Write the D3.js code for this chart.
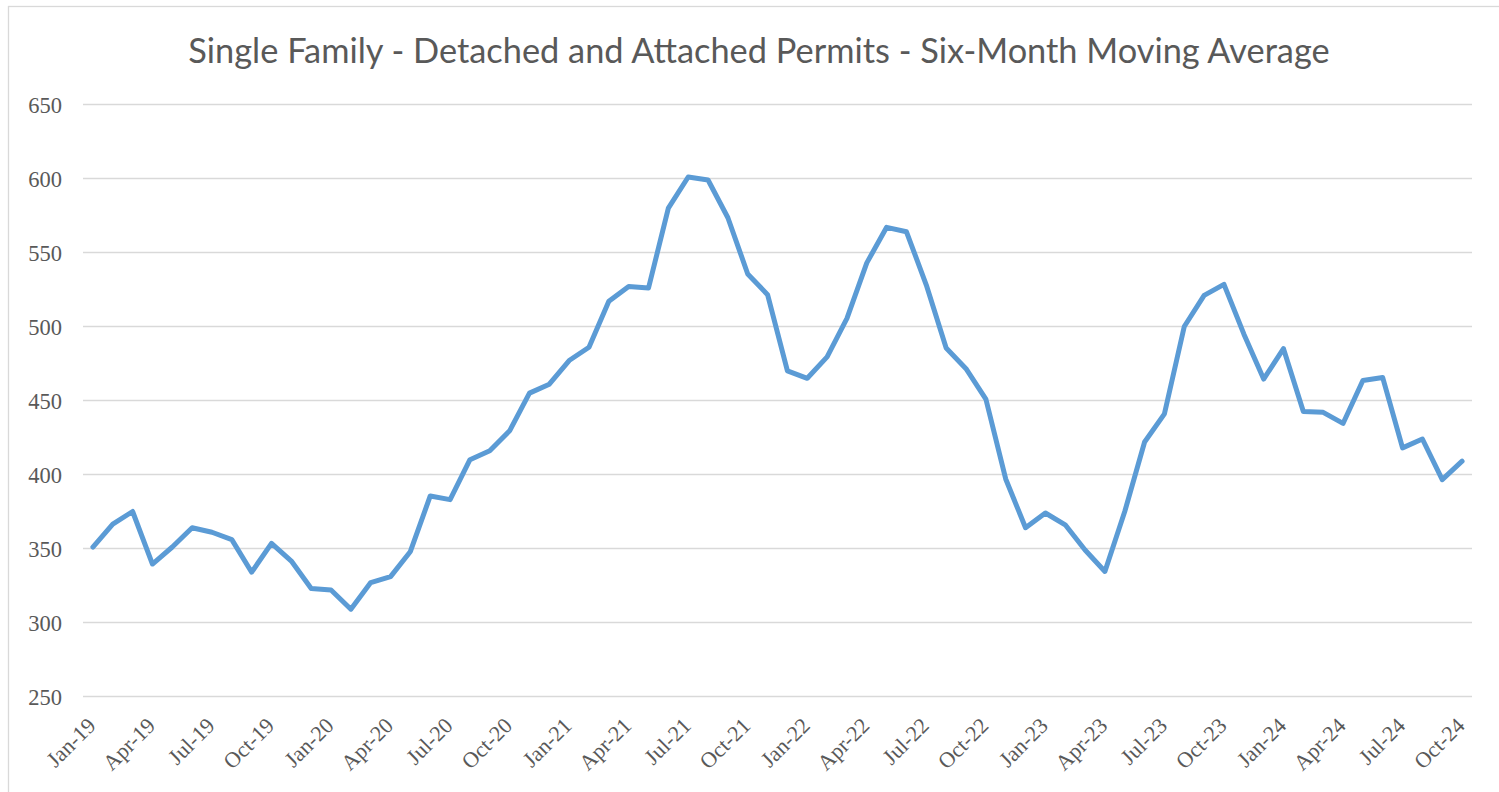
<!DOCTYPE html>
<html>
<head>
<meta charset="utf-8">
<script src="https://cdn.jsdelivr.net/npm/d3@7"></script>
<style>
  html, body { margin: 0; padding: 0; background: #ffffff; }
  svg { display: block; }
</style>
</head>
<body>
<svg id="chart" width="1499" height="792"></svg>
<script>
const title = "Single Family - Detached and Attached Permits - Six-Month Moving Average";

const months = ["Jan","Feb","Mar","Apr","May","Jun","Jul","Aug","Sep","Oct","Nov","Dec"];
const years = ["19","20","21","22","23","24"];

const categories = [];
years.forEach(y => months.forEach(m => categories.push(m + "-" + y)));
categories.splice(70); // Jan-19 .. Oct-24

const values = [
  351, 366.5, 375, 339.5, 351, 364, 361, 356, 334, 353.5, 341.5, 323,
  322, 309, 327, 331, 348, 385.5, 383, 410, 416, 429.5, 455, 461,
  477, 486, 517, 527, 526, 580, 601, 599, 573.5, 535.5, 521.5, 470,
  465, 479.5, 505.5, 543, 567, 564, 528, 485.5, 471.5, 451, 397, 364,
  374, 366, 349, 334.5, 375, 422, 441, 500, 521, 528.5, 495, 464.5,
  485, 442.5, 442, 434.5, 463.5, 465.5, 418, 424, 396.5, 409
];

const yTicks = [250, 300, 350, 400, 450, 500, 550, 600, 650];
const xTickLabels = categories.filter((c, i) => i % 3 === 0);

const svg = d3.select("#chart");

// chart border
svg.append("rect")
  .attr("x", 8.5).attr("y", 6.5)
  .attr("width", 1520).attr("height", 820)
  .attr("fill", "none")
  .attr("stroke", "#d9d9d9")
  .attr("stroke-width", 1.3);

const plotLeft = 83, plotRight = 1472;
const x = d3.scalePoint().domain(categories).range([plotLeft, plotRight]).padding(0.5);
const y = d3.scaleLinear().domain([250, 650]).range([696.5, 104.5]);

// gridlines
svg.append("g")
  .selectAll("line")
  .data(yTicks)
  .join("line")
  .attr("x1", plotLeft).attr("x2", plotRight)
  .attr("y1", d => y(d)).attr("y2", d => y(d))
  .attr("stroke", "#d9d9d9")
  .attr("stroke-width", 1.3);

// y axis labels
const yAxis = d3.axisLeft(y).tickValues(yTicks).tickSize(0).tickPadding(0);
const yg = svg.append("g").attr("transform", `translate(62,0)`).call(yAxis);
yg.select(".domain").remove();
yg.selectAll("text")
  .attr("font-family", "'Liberation Serif', 'Times New Roman', serif")
  .attr("font-size", 22.5)
  .attr("fill", "#595959")
  .attr("x", 0)
  .attr("dy", "0.34em")
  .attr("text-anchor", "end");

// x axis labels
const xAxis = d3.axisBottom(x).tickValues(xTickLabels).tickSize(0).tickPadding(0);
const xg = svg.append("g").call(xAxis);
xg.select(".domain").remove();
xg.selectAll(".tick").attr("transform", d => `translate(${x(d)},0)`);
xg.selectAll("text")
  .attr("font-family", "'Liberation Serif', 'Times New Roman', serif")
  .attr("font-size", 22)
  .attr("fill", "#595959")
  .attr("text-anchor", "end")
  .attr("y", 0).attr("dy", 0)
  .attr("transform", "translate(4,727) rotate(-45)");

// line
const line = d3.line()
  .x((d, i) => x(categories[i]))
  .y(d => y(d));

svg.append("path")
  .datum(values)
  .attr("d", line)
  .attr("fill", "none")
  .attr("stroke", "#5b9bd5")
  .attr("stroke-width", 5)
  .attr("stroke-linejoin", "round")
  .attr("stroke-linecap", "round");

// title
const t = svg.append("text")
  .attr("x", 759).attr("y", 63)
  .attr("text-anchor", "middle")
  .attr("font-family", "Lato, 'Open Sans', sans-serif")
  .attr("font-size", 36)
  .attr("fill", "#595959")
  .text(title);
const w = t.node().getComputedTextLength();
t.attr("font-size", 36 * 1142 / w);
</script>
</body>
</html>
